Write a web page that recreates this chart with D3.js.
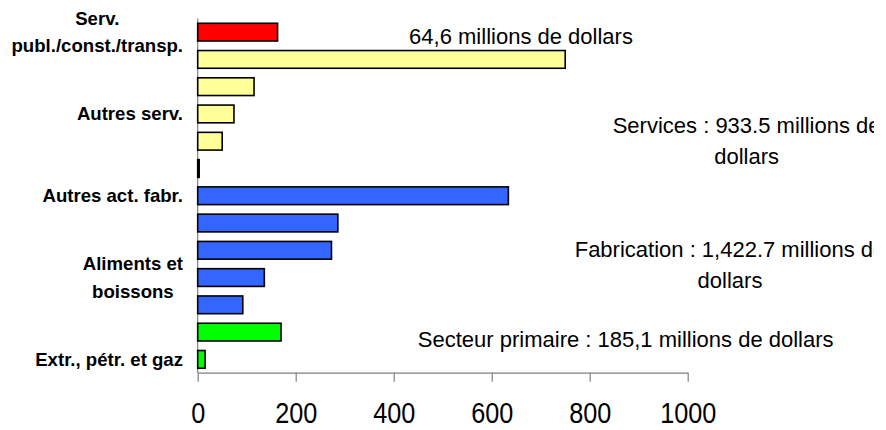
<!DOCTYPE html>
<html>
<head>
<meta charset="utf-8">
<script src="https://cdn.jsdelivr.net/npm/d3@7"></script>
<style>
  html, body { margin: 0; padding: 0; background: #fff; }
  svg { display: block; }
  text { font-family: "Liberation Sans", Arial, sans-serif; fill: #000; }
</style>
</head>
<body>
<svg id="chart" width="886" height="430"></svg>
<script>
// ---- data ----
const values = [163, 750, 115, 74, 50, 3, 634, 286, 273, 136, 92, 170, 15];
const groups = ["public", "services", "services", "services", "services", "other",
                "fabrication", "fabrication", "fabrication", "fabrication", "fabrication",
                "primaire", "primaire"];
const groupColors = { public: "#FF0000", services: "#FFFF99", other: "#000000",
                      fabrication: "#3366FF", primaire: "#00FF00" };
const categoryLabels = [
  ["Serv.", "publ./const./transp."], null, null,
  ["Autres serv."], null, null,
  ["Autres act. fabr."], null, null,
  ["Aliments et", "boissons"], null, null,
  ["Extr., pétr. et gaz"]
];
const xTicks = [0, 200, 400, 600, 800, 1000];
const annotations = [
  ["64,6 millions de dollars"],
  ["Services : 933.5 millions de", "dollars"],
  ["Fabrication : 1,422.7 millions de", "dollars"],
  ["Secteur primaire : 185,1 millions de dollars"]
];

// ---- layout ----
const svg = d3.select("#chart");
const x = d3.scaleLinear().domain([0, 1000]).range([197.7, 687.7]);
const y = d3.scaleBand().domain(d3.range(values.length)).range([18.5, 373]).paddingInner(0.35).paddingOuter(0.175);

// vertical axis line
svg.append("line")
  .attr("x1", x(0)).attr("x2", x(0))
  .attr("y1", 18.5).attr("y2", 373)
  .attr("stroke", "#808080").attr("stroke-width", 1.2);

// bottom axis
const axisG = svg.append("g")
  .attr("transform", "translate(0,372.7)")
  .call(d3.axisBottom(x).tickValues(xTicks).tickSize(9).tickSizeOuter(0).tickFormat(d3.format("d")));
axisG.select(".domain").attr("stroke", "#808080").attr("stroke-width", 1.2);
axisG.selectAll(".tick line").attr("stroke", "#808080").attr("stroke-width", 1.2);
axisG.selectAll(".tick text")
  .attr("y", 50.8).attr("dy", 0)
  .attr("transform", "scale(0.87,1)")
  .style("font-family", "'Liberation Sans', Arial, sans-serif")
  .style("font-size", "29px").attr("fill", "#000");

// bars
svg.append("g").selectAll("rect")
  .data(values)
  .join("rect")
  .attr("x", x(0))
  .attr("y", (d, i) => y(i))
  .attr("width", d => Math.max(0, x(d) - x(0)))
  .attr("height", y.bandwidth())
  .attr("fill", (d, i) => groupColors[groups[i]])
  .attr("stroke", "#000")
  .attr("stroke-width", 1.6);

// category labels (bold, lines centered, block right-aligned)
const labelRight = 183;
const lineH = 27.5;
categoryLabels.forEach((lines, i) => {
  if (!lines) return;
  const g = svg.append("g");
  const cy = y(i) + y.bandwidth() / 2;
  const n = lines.length;
  const texts = lines.map((ln, k) =>
    g.append("text")
      .attr("y", cy + 6.4 + (k - (n - 1) / 2) * lineH)
      .attr("text-anchor", "middle")
      .style("font-size", "18.6px").style("font-weight", "bold")
      .text(ln));
  const maxW = d3.max(texts, t => t.node().getComputedTextLength());
  texts.forEach(t => t.attr("x", labelRight - maxW / 2));
});

// annotations
svg.append("defs").append("clipPath").attr("id", "clip")
  .append("rect").attr("x", 0).attr("y", 0).attr("width", 874).attr("height", 430);
const annG = svg.append("g").attr("clip-path", "url(#clip)");
const annPos = [
  { cx: 521, y0: 44.3 },
  { cx: 746.6, y0: 132.7 },
  { cx: 730, y0: 256.7 },
  { cx: 625.7, y0: 346.7 }
];
annotations.forEach((lines, i) => {
  lines.forEach((ln, k) => {
    annG.append("text")
      .attr("x", annPos[i].cx)
      .attr("y", annPos[i].y0 + k * 31.6)
      .attr("text-anchor", "middle")
      .style("font-size", "22px")
      .text(ln);
  });
});
</script>
</body>
</html>
